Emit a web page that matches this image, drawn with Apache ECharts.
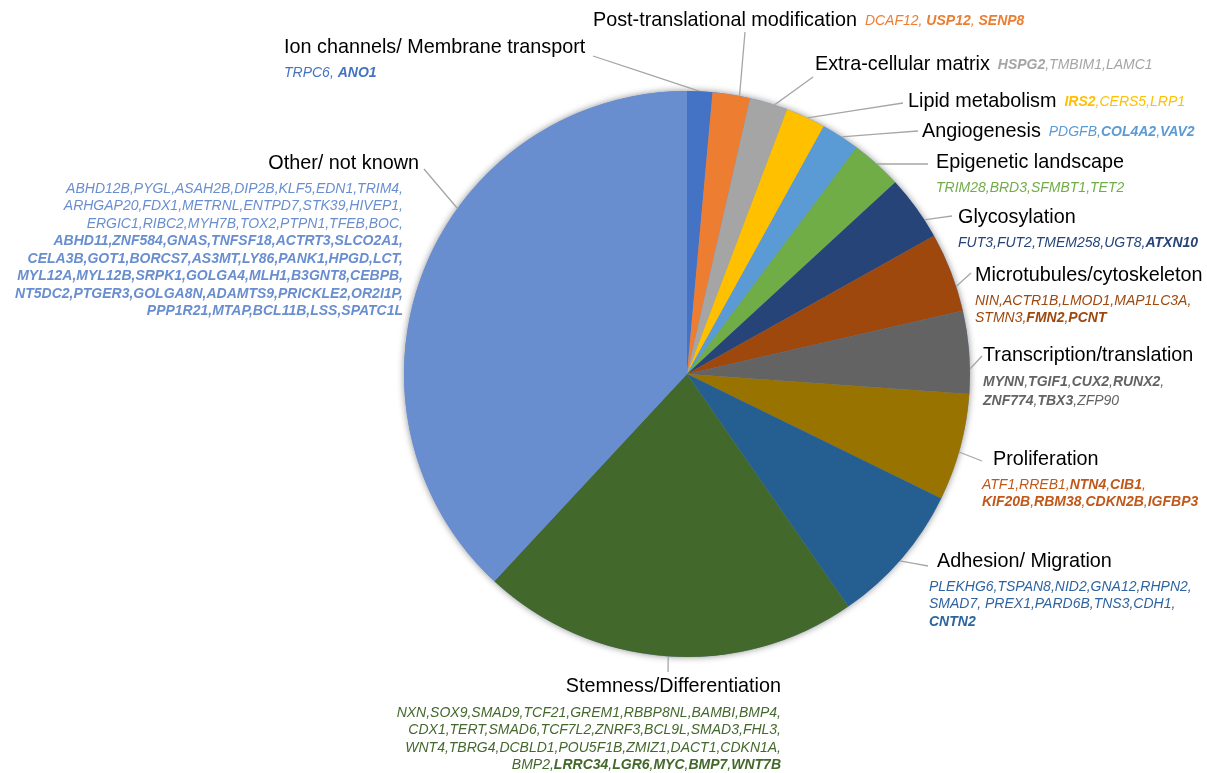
<!DOCTYPE html>
<html>
<head>
<meta charset="utf-8">
<script src="https://cdn.jsdelivr.net/npm/echarts@6/dist/echarts.min.js"></script>
<style>
html,body{margin:0;padding:0;background:#fff;}
#c{width:1207px;height:773px;}
</style>
</head>
<body>
<div id="c"></div>
<script>
// ---- data ----
const categories = [
  'Ion channels/ Membrane transport',
  'Post-translational modification',
  'Extra-cellular matrix',
  'Lipid metabolism',
  'Angiogenesis',
  'Epigenetic landscape',
  'Glycosylation',
  'Microtubules/cytoskeleton',
  'Transcription/translation',
  'Proliferation',
  'Adhesion/ Migration',
  'Stemness/Differentiation',
  'Other/ not known'
];
// share of genes (%)
const sharePct = [1.44, 2.14, 2.17, 2.28, 2.19, 2.94, 3.72, 4.53, 4.72, 6.11, 8.11, 21.56, 38.08];
// gene lists as printed (**x** = bold)
const genesIon = ['TRPC6, **ANO1**'];
const genesPTM = ['DCAF12, **USP12**, **SENP8**'];
const genesECM = ['**HSPG2**,TMBIM1,LAMC1'];
const genesLipid = ['**IRS2**,CERS5,LRP1'];
const genesAngio = ['PDGFB,**COL4A2**,**VAV2**'];
const genesEpi = ['TRIM28,BRD3,SFMBT1,TET2'];
const genesGlyco = ['FUT3,FUT2,TMEM258,UGT8,**ATXN10**'];
const genesMicro = ['NIN,ACTR1B,LMOD1,MAP1LC3A,', 'STMN3,**FMN2**,**PCNT**'];
const genesTrans = ['**MYNN**,**TGIF1**,**CUX2**,**RUNX2**,', '**ZNF774**,**TBX3**,ZFP90'];
const genesProlif = ['ATF1,RREB1,**NTN4**,**CIB1**,', '**KIF20B**,**RBM38**,**CDKN2B**,**IGFBP3**'];
const genesAdhesion = ['PLEKHG6,TSPAN8,NID2,GNA12,RHPN2,', 'SMAD7, PREX1,PARD6B,TNS3,CDH1,', '**CNTN2**'];
const genesStem = [
  'NXN,SOX9,SMAD9,TCF21,GREM1,RBBP8NL,BAMBI,BMP4,',
  'CDX1,TERT,SMAD6,TCF7L2,ZNRF3,BCL9L,SMAD3,FHL3,',
  'WNT4,TBRG4,DCBLD1,POU5F1B,ZMIZ1,DACT1,CDKN1A,',
  'BMP2,**LRRC34**,**LGR6**,**MYC**,**BMP7**,**WNT7B**'
];
const genesOther = [
  'ABHD12B,PYGL,ASAH2B,DIP2B,KLF5,EDN1,TRIM4,',
  'ARHGAP20,FDX1,METRNL,ENTPD7,STK39,HIVEP1,',
  'ERGIC1,RIBC2,MYH7B,TOX2,PTPN1,TFEB,BOC,',
  '**ABHD11,ZNF584,GNAS,TNFSF18,ACTRT3,SLCO2A1,**',
  '**CELA3B,GOT1,BORCS7,AS3MT,LY86,PANK1,HPGD,LCT,**',
  '**MYL12A,MYL12B,SRPK1,GOLGA4,MLH1,B3GNT8,CEBPB,**',
  '**NT5DC2,PTGER3,GOLGA8N,ADAMTS9,PRICKLE2,OR2I1P,**',
  '**PPP1R21,MTAP,BCL11B,LSS,SPATC1L**'
];
const geneLines = [genesIon, genesPTM, genesECM, genesLipid, genesAngio, genesEpi, genesGlyco,
  genesMicro, genesTrans, genesProlif, genesAdhesion, genesStem, genesOther];

// ---- styles ----
const sliceColors = ['#4472C4', '#ED7D31', '#A5A5A5', '#FFC000', '#5B9BD5', '#70AD47', '#264478',
  '#9E480E', '#636363', '#997300', '#255E91', '#43682B', '#698ED0'];
const textColors = ['#4472C4', '#ED7D31', '#A5A5A5', '#FFC000', '#5B9BD5', '#70AD47', '#264478',
  '#9E480E', '#636363', '#C0581A', '#2E64A0', '#43682B', '#698ED0'];
const FONT = 'Liberation Sans, Arial, sans-serif';
const CX = 687, CY = 374, R = 283;

// label layout: left/top (or right/top), inline = name+genes on one line,
// indent of name, extra gap under name, leader end point, anchor angle on pie (deg clockwise from top)
const labelLayoutCfg = [
  {x: 284, y: 32,  align: 'left',  inline: false, indent: 0,  gap: 0, end: [593, 56],  ang: 2.6},
  {x: 593, y: 5,   align: 'left',  inline: true,  indent: 0,  gap: 0, end: [745, 32],  ang: 10.7},
  {x: 815, y: 49,  align: 'left',  inline: true,  indent: 0,  gap: 0, end: [813, 77],  ang: 18.0},
  {x: 908, y: 86,  align: 'left',  inline: true,  indent: 0,  gap: 0, end: [903, 103], ang: 25.2},
  {x: 922, y: 116, align: 'left',  inline: true,  indent: 0,  gap: 0, end: [918, 131], ang: 33.1},
  {x: 936, y: 147, align: 'left',  inline: false, indent: 0,  gap: 0, end: [928, 164], ang: 42.1},
  {x: 958, y: 202, align: 'left',  inline: false, indent: 0,  gap: 0, end: [952, 216], ang: 57.0},
  {x: 975, y: 260, align: 'left',  inline: false, indent: 0,  gap: 0, end: [971, 273], ang: 72.0},
  {x: 983, y: 341, align: 'left',  inline: false, indent: 0,  gap: 2, end: [982, 356], ang: 89.0},
  {x: 982, y: 444, align: 'left',  inline: false, indent: 11, gap: 0, end: [982, 461], ang: 106.0},
  {x: 929, y: 546, align: 'left',  inline: false, indent: 8,  gap: 0, end: [928, 566], ang: 131.3},
  {x: 781, y: 672, align: 'right', inline: false, indent: 0,  gap: 3, end: [668, 672], ang: 183.8},
  {x: 419, y: 148, align: 'right', inline: false, indent: 0,  gap: 0, end: [424, 169], ang: 305.8}
];

const rich = { sp: {width: 8}, sr: {width: 16} };
sliceColors.forEach((c, i) => {
  const lh = (i === 8) ? 19 : 17.5;
  const base = {color: textColors[i], fontSize: 14, fontStyle: 'italic', fontFamily: FONT, lineHeight: lh};
  rich['g' + i] = Object.assign({}, base);
  rich['b' + i] = Object.assign({}, base, {fontWeight: 'bold'});
  rich['n' + i] = {color: '#000', fontSize: 19.8, fontFamily: FONT, lineHeight: 32,
    padding: [0, 0, labelLayoutCfg[i].gap, labelLayoutCfg[i].indent]};
});

function lineToRich(line, i) {
  const parts = line.split('**');
  let s = '';
  parts.forEach((p, k) => {
    if (!p) return;
    s += '{' + (k % 2 ? 'b' : 'g') + i + '|' + p + '}';
  });
  return s;
}
function buildLabel(i) {
  const cfg = labelLayoutCfg[i];
  const lines = geneLines[i].map(l => lineToRich(l, i));
  const name = '{n' + i + '|' + categories[i] + '}';
  if (cfg.inline) return name + '{sp|}' + lines.join('\n');
  if (i === 12) return name + '\n' + lines.map(l => l + '{sr|}').join('\n');
  return name + '\n' + lines.join('\n');
}

function edgePoint(angDeg) {
  const a = angDeg * Math.PI / 180;
  return [CX + R * Math.sin(a), CY - R * Math.cos(a)];
}

const chart = echarts.init(document.getElementById('c'), null, {renderer: 'canvas'});
chart.setOption({
  backgroundColor: '#fff',
  animation: false,
  series: [
    {
      type: 'pie', silent: true, center: [CX, CY], radius: R, z: 1,
      label: {show: false}, labelLine: {show: false},
      itemStyle: {color: '#6a8ecf', shadowBlur: 7, shadowColor: 'rgba(0,0,0,0.45)'},
      data: [{value: 1}]
    },
    {
      type: 'pie', center: [CX, CY], radius: R, z: 2,
      startAngle: 90, clockwise: true, avoidLabelOverlap: false,
      minShowLabelAngle: 0,
      itemStyle: {borderWidth: 0},
      data: categories.map((c, i) => ({name: c, value: sharePct[i], itemStyle: {color: sliceColors[i]}})),
      label: {
        show: true, position: 'outside',
        formatter: p => buildLabel(p.dataIndex),
        rich: rich
      },
      labelLine: {show: true, lineStyle: {color: '#A6A6A6', width: 1.3}},
      labelLayout: function (params) {
        const cfg = labelLayoutCfg[params.dataIndex];
        const p0 = edgePoint(cfg.ang);
        const p2 = cfg.end;
        const p1 = [(p0[0] + p2[0]) / 2, (p0[1] + p2[1]) / 2];
        return {
          x: cfg.x, y: cfg.y, align: cfg.align, verticalAlign: 'top',
          labelLinePoints: [p0, p1, p2]
        };
      }
    }
  ]
});
</script>
</body>
</html>
